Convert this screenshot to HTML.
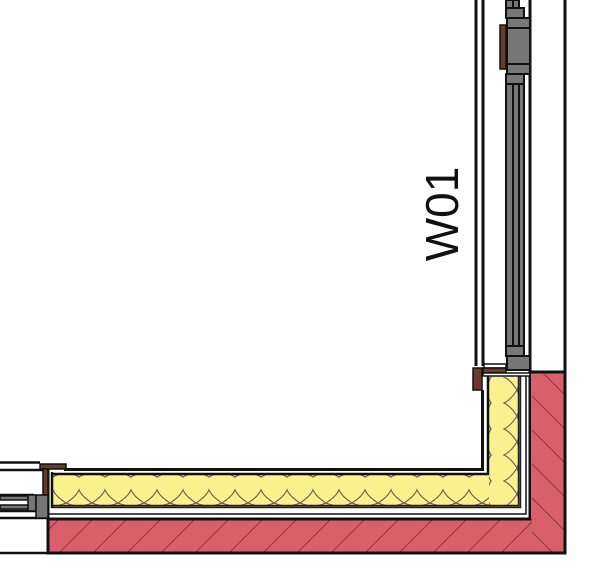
<!DOCTYPE html>
<html><head><meta charset="utf-8"><style>html,body{margin:0;padding:0;background:#fff}svg{display:block}</style></head>
<body>
<svg width="600" height="584" viewBox="0 0 600 584" xmlns="http://www.w3.org/2000/svg">
<defs>
<pattern id="hatch" width="34" height="34" patternUnits="userSpaceOnUse">
<rect width="34" height="34" fill="#d9606a"/>
<path d="M-2 36 L36 -2 M-19 19 L19 -19 M15 53 L53 15" stroke="#8a3a44" stroke-width="1"/>
</pattern>
<pattern id="hatchV" width="34" height="34" patternUnits="userSpaceOnUse">
<rect width="34" height="34" fill="#d9606a"/>
<path d="M-2 -2 L36 36 M-19 15 L19 53 M15 -19 L53 19" stroke="#8a3a44" stroke-width="1"/>
</pattern>
<pattern id="insH" width="26" height="30" patternUnits="userSpaceOnUse" x="53" y="475">
<rect width="26" height="30" fill="#fbf08e"/>
<path d="M0 2 Q13 -6 26 2 M0 2 Q-6 16 13 28 Q32 16 26 2 M13 28 Q6 31 0 31 M13 28 Q20 31 26 31" fill="none" stroke="#5e5d48" stroke-width="1.1"/>
</pattern>
<pattern id="insV" width="30" height="26" patternUnits="userSpaceOnUse" x="489" y="377">
<rect width="30" height="26" fill="#fbf08e"/>
<path d="M2 0 Q-6 13 2 26 M2 0 Q16 -6 28 13 Q16 32 2 26 M28 13 Q31 6 31 0 M28 13 Q31 20 31 26" fill="none" stroke="#5e5d48" stroke-width="1.1"/>
</pattern>
</defs>

<rect x="48" y="519" width="517" height="33" fill="url(#hatch)"/>
<rect x="532" y="372" width="33" height="180" fill="url(#hatchV)"/>
<path d="M48 519 H530 V372 M565 372 V553 H48 V519" fill="none" stroke="#111" stroke-width="3"/>
<path d="M530 372 H566" stroke="#111" stroke-width="3"/>

<rect x="53" y="475" width="465" height="30" fill="url(#insH)"/>
<rect x="489" y="377" width="29" height="128" fill="url(#insV)"/>
<path d="M52 506.5 H519.5 V376" fill="none" stroke="#222" stroke-width="3.5"/>
<path d="M52 506.5 H519.5 V376" fill="none" stroke="#6b4a3a" stroke-width="0.8"/>
<path d="M52 474 H488 V376" fill="none" stroke="#111" stroke-width="2.5"/>
<path d="M64 469.5 H482.5 V390" fill="none" stroke="#111" stroke-width="3"/>
<path d="M52 472 V508" stroke="#111" stroke-width="2.5"/>
<path d="M48 514 H526 V376" fill="none" stroke="#111" stroke-width="1.5"/>
<path d="M48 469 V553" stroke="#111" stroke-width="3"/>

<line x1="476" y1="0" x2="476" y2="366" stroke="#111" stroke-width="3"/>
<line x1="483" y1="0" x2="483" y2="366" stroke="#111" stroke-width="3"/>
<line x1="530" y1="0" x2="530" y2="372" stroke="#111" stroke-width="3"/>
<line x1="565" y1="0" x2="565" y2="372" stroke="#111" stroke-width="3"/>
<g fill="#777" stroke="#111" stroke-width="2">
<rect x="506" y="0" width="7" height="8"/><rect x="513" y="0" width="6" height="8"/>
<rect x="506" y="8" width="18" height="10"/>
<rect x="507" y="18" width="23" height="10"/>
<rect x="507" y="28" width="23" height="36"/>
<rect x="507" y="64" width="23" height="10"/>
<rect x="506" y="74" width="18" height="10"/>
<rect x="506" y="84" width="7" height="270"/><rect x="513" y="84" width="6" height="270"/><rect x="519" y="84" width="5" height="270"/>
<rect x="506" y="346" width="18" height="10"/>
<rect x="507" y="356" width="23" height="14"/>
</g>
<rect x="500" y="25" width="6" height="44" fill="#6b3a2a" stroke="#111" stroke-width="1.5"/>
<rect x="484" y="364" width="22" height="4" fill="#fff" stroke="#111" stroke-width="1.5"/>
<rect x="483" y="368" width="23" height="5" fill="#6b3a2a" stroke="#111" stroke-width="1.5"/>
<rect x="473" y="368" width="9" height="22" fill="#6b3a2a" stroke="#111" stroke-width="1.5"/>
<rect x="483" y="373" width="47" height="3" fill="#fff" stroke="#111" stroke-width="1.5"/>

<path d="M0 462.5 H40 M0 470 H43 M0 495 H34 M0 511 H40 M0 518 H48 M0 553 H48" stroke="#111" stroke-width="2.5"/>
<rect x="40" y="464" width="26" height="5" fill="#6b3a2a" stroke="#111" stroke-width="1.5"/>
<rect x="43" y="469" width="5" height="26" fill="#6b3a2a" stroke="#111" stroke-width="1.5"/>
<rect x="0" y="496" width="28" height="4" fill="#777" stroke="#111" stroke-width="1.5"/>
<rect x="0" y="505" width="28" height="4" fill="#777" stroke="#111" stroke-width="1.5"/>
<rect x="28" y="495" width="8" height="16" fill="#777" stroke="#111" stroke-width="1.5"/>
<rect x="36" y="495" width="12" height="23" fill="#777" stroke="#111" stroke-width="1.5"/>

<text x="0" y="0" transform="translate(458,214) rotate(-90)" text-anchor="middle" font-family="Liberation Sans, sans-serif" font-size="46" fill="#111">W01</text>
</svg>
</body></html>
